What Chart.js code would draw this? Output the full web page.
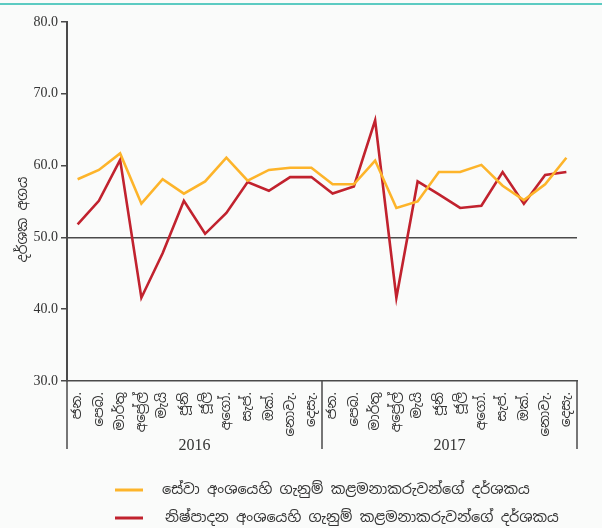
<!DOCTYPE html>
<html>
<head>
<meta charset="utf-8">
<script src="https://cdn.jsdelivr.net/npm/chart.js@4.4.1/dist/chart.umd.min.js"></script>
<style>
  html, body { margin: 0; padding: 0; background: #fafbfa; }
  #topline { position: absolute; left: 0; top: 3px; width: 602px; height: 2px; background: #5ccbc2; }
  #wrap { width: 602px; height: 528px; }
</style>
</head>
<body>
<div id="topline"></div>
<div id="wrap"><canvas id="chart" width="602" height="528"></canvas></div>
<script>
'use strict';

// month labels (Sinhala), two years
const months = ['ජන.', 'පෙබ.', 'මාර්තු', 'අප්‍රේල්', 'මැයි', 'ජූනි', 'ජූලි', 'අගෝ.', 'සැප්.', 'ඔක්.', 'නොවැ.', 'දෙසැ.'];
const years = ['2016', '2017'];
const labels = months.concat(months);

const serviceLabel = 'සේවා අංශයෙහි ගැනුම් කළමනාකරුවන්ගේ දර්ශකය';
const mfgLabel = 'නිෂ්පාදන අංශයෙහි ගැනුම් කළමනාකරුවන්ගේ දර්ශකය';

const serviceValues = [58.1, 59.4, 61.7, 54.7, 58.1, 56.1, 57.8, 61.1, 57.9, 59.4, 59.7, 59.7,
                       57.4, 57.4, 60.7, 54.1, 55.0, 59.1, 59.1, 60.1, 57.2, 55.2, 57.4, 61.1];
const mfgValues = [51.8, 55.1, 60.8, 41.6, 47.8, 55.1, 50.5, 53.4, 57.7, 56.5, 58.4, 58.4,
                   56.1, 57.1, 66.3, 41.6, 57.8, 56.0, 54.1, 54.4, 59.1, 54.7, 58.7, 59.1];

const yTitle = 'දර්ශක අගය';
const yMin = 30, yMax = 80, yStep = 10, threshold = 50;

const sinhalaFont = "'Noto Sans Sinhala', 'Iskoola Pota', 'Noto Sans', sans-serif";
const serifFont = "'Liberation Serif', 'DejaVu Serif', serif";
const axisColor = '#4a4a4a';

// draws y title, year separators, year labels and the legend at the bottom
const extras = {
  id: 'extras',
  afterDraw(chart) {
    const ctx = chart.ctx;
    const x = chart.scales.x;
    const area = chart.chartArea;
    const lineBottom = 449;
    ctx.save();

    // y axis title
    ctx.save();
    ctx.translate(23, (area.top + area.bottom) / 2 + 18);
    ctx.rotate(-Math.PI / 2);
    ctx.fillStyle = '#333';
    ctx.font = '14px ' + sinhalaFont;
    ctx.textAlign = 'center';
    ctx.textBaseline = 'middle';
    ctx.fillText(yTitle, 0, 0);
    ctx.restore();

    ctx.strokeStyle = axisColor;
    ctx.lineWidth = 1.5;
    const perYear = months.length;
    const seps = [area.left];
    for (let k = 1; k < years.length; k++) {
      seps.push((x.getPixelForValue(k * perYear - 1) + x.getPixelForValue(k * perYear)) / 2);
    }
    seps.push(area.right);
    seps.forEach(sx => {
      ctx.beginPath();
      ctx.moveTo(sx, area.bottom);
      ctx.lineTo(sx, lineBottom);
      ctx.stroke();
    });
    ctx.fillStyle = '#333';
    ctx.font = '16px ' + serifFont;
    ctx.textAlign = 'center';
    ctx.textBaseline = 'alphabetic';
    years.forEach((yr, k) => {
      ctx.fillText(yr, (seps[k] + seps[k + 1]) / 2, 450);
    });

    // legend
    ctx.textAlign = 'left';
    ctx.textBaseline = 'middle';
    ctx.font = '14.5px ' + sinhalaFont;
    const rows = [490, 518];
    chart.data.datasets.forEach((ds, i) => {
      const ry = rows[i];
      ctx.strokeStyle = ds.borderColor;
      ctx.lineWidth = 3;
      ctx.beginPath();
      ctx.moveTo(115, ry);
      ctx.lineTo(143, ry);
      ctx.stroke();
      ctx.fillStyle = '#333';
      ctx.fillText(ds.label, 162 + (i === 1 ? 3 : 0), ry);
    });
    ctx.restore();
  }
};

new Chart(document.getElementById('chart'), {
  type: 'line',
  data: {
    labels: labels,
    datasets: [{
      label: serviceLabel,
      data: serviceValues,
      borderColor: '#fdb42a',
      backgroundColor: '#fdb42a',
      borderWidth: 2.6,
      pointRadius: 0,
      tension: 0
    },
    {
      label: mfgLabel,
      data: mfgValues,
      borderColor: '#c1222e',
      backgroundColor: '#c1222e',
      borderWidth: 2.6,
      pointRadius: 0,
      tension: 0
    }]
  },
  options: {
    responsive: false,
    animation: false,
    layout: { padding: { top: 22, right: 25, left: 0, bottom: 0 } },
    plugins: {
      legend: { display: false },
      tooltip: { enabled: false }
    },
    scales: {
      x: {
        offset: true,
        grid: { display: false },
        border: { display: true, color: axisColor, width: 1.5 },
        ticks: {
          autoSkip: false,
          minRotation: 90,
          maxRotation: 90,
          padding: 3,
          color: '#333',
          font: { family: sinhalaFont, size: 13.5 }
        },
        afterFit(scale) { scale.height = 147; }
      },
      y: {
        min: yMin,
        max: yMax,
        ticks: {
          stepSize: yStep,
          color: '#333',
          padding: 3,
          font: { family: serifFont, size: 14 },
          callback: v => v.toFixed(1)
        },
        grid: {
          drawOnChartArea: true,
          color: c => (c.tick && c.tick.value === threshold) ? axisColor : 'transparent',
          lineWidth: 1.5,
          tickColor: axisColor,
          tickLength: 6
        },
        border: { display: true, color: axisColor, width: 2 },
        afterFit(scale) { scale.width = 67; }
      }
    }
  },
  plugins: [extras]
});
</script>
</body>
</html>
